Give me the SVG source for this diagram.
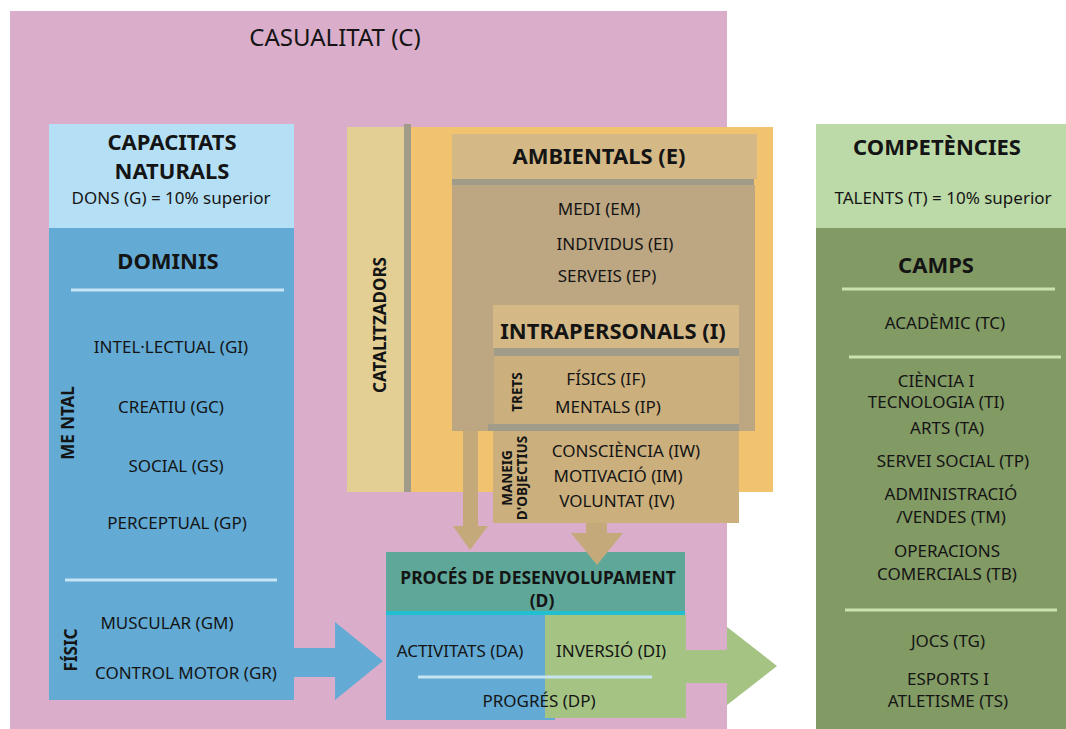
<svg xmlns="http://www.w3.org/2000/svg" width="1066" height="729" viewBox="0 0 1066 729">
  <style>
    text { font-family: "Noto Sans", "Open Sans", "DejaVu Sans", sans-serif; fill: #141414; text-anchor: middle; }
    .t { font-size: 17px; }
    .h { font-size: 22px; font-weight: bold; }
    .b { font-size: 17px; font-weight: bold; }
    .p { font-size: 17.5px; font-weight: bold; }
    .s { font-size: 13.5px; font-weight: bold; }
    .sep-blue { stroke: #c6e4f3; stroke-width: 3; }
    .sep-green { stroke: #c9e2ae; stroke-width: 3; }
    .bar { fill: #a19c8a; }
  </style>

  <!-- chance background -->
  <g id="casualitat">
    <rect x="10" y="11" width="717" height="718" fill="#daadcb"/>
    <text x="335" y="46" style="font-size:24px">CASUALITAT (C)</text>
  </g>

  <!-- natural abilities column -->
  <g id="capacitats">
    <rect x="49" y="124" width="245" height="104" fill="#b5dff5"/>
    <rect x="49" y="228" width="245" height="472" fill="#63abd4"/>
    <text class="h" x="172" y="150">CAPACITATS</text>
    <text class="h" x="172" y="179">NATURALS</text>
    <text class="t" x="171" y="204">DONS (G) = 10% superior</text>
    <text class="h" x="168" y="269">DOMINIS</text>
    <line class="sep-blue" x1="71" y1="290" x2="284" y2="290"/>
    <text class="t" x="171" y="353">INTEL·LECTUAL (GI)</text>
    <text class="t" x="171" y="413">CREATIU (GC)</text>
    <text class="t" x="176" y="472">SOCIAL (GS)</text>
    <text class="t" x="177" y="529">PERCEPTUAL (GP)</text>
    <line class="sep-blue" x1="65" y1="580" x2="277" y2="580"/>
    <text class="t" x="167" y="629">MUSCULAR (GM)</text>
    <text class="t" x="186" y="679">CONTROL MOTOR (GR)</text>
    <text class="b" transform="translate(74,423) rotate(-90)">ME NTAL</text>
    <text class="b" transform="translate(77,650) rotate(-90)">FÍSIC</text>
  </g>

  <!-- catalysts -->
  <g id="catalitzadors">
    <rect x="347" y="127" width="57" height="365" fill="#e3cf93"/>
    <rect class="bar" x="404" y="124" width="7" height="368"/>
    <rect x="411" y="127" width="362" height="365" fill="#f2c36f"/>
    <text class="b" transform="translate(386,325) rotate(-90)">CATALITZADORS</text>
  </g>

  <!-- environmental catalysts -->
  <g id="ambientals">
    <rect x="452" y="185" width="303" height="246" fill="#bda782"/>
    <rect x="452" y="134" width="305" height="45" fill="#d4b987"/>
    <rect class="bar" x="452" y="179" width="302" height="6"/>
    <text class="h" x="599" y="164">AMBIENTALS (E)</text>
    <text class="t" x="599" y="215">MEDI (EM)</text>
    <text class="t" x="615" y="250">INDIVIDUS (EI)</text>
    <text class="t" x="607" y="282">SERVEIS (EP)</text>
  </g>

  <!-- intrapersonal catalysts -->
  <g id="intrapersonals">
    <rect x="493" y="305" width="246" height="43" fill="#d4b987"/>
    <rect class="bar" x="494" y="348" width="245" height="8"/>
    <rect x="494" y="356" width="245" height="68" fill="#cbb07e"/>
    <rect class="bar" x="488" y="424" width="251" height="7"/>
    <rect x="493" y="431" width="246" height="92" fill="#cbb07e"/>
    <text class="h" x="613" y="339">INTRAPERSONALS (I)</text>
    <text class="s" transform="translate(522,392) rotate(-90)">TRETS</text>
    <text class="t" x="606" y="385">FÍSICS (IF)</text>
    <text class="t" x="608" y="413">MENTALS (IP)</text>
    <text class="s" transform="translate(512,478) rotate(-90)">MANEIG</text>
    <text class="s" transform="translate(527,478) rotate(-90)">D'OBJECTIUS</text>
    <text class="t" x="626" y="457">CONSCIÈNCIA (IW)</text>
    <text class="t" x="618" y="482">MOTIVACIÓ (IM)</text>
    <text class="t" x="617" y="507">VOLUNTAT (IV)</text>
  </g>

  <!-- developmental process -->
  <g id="proces">
    <rect x="386" y="552" width="299" height="59" fill="#5fa899"/>
    <rect x="386" y="611" width="299" height="4" fill="#22bfd1"/>
    <rect x="386" y="615" width="169" height="105" fill="#63abd4"/>
    <rect x="545" y="615" width="141" height="103" fill="#a5c484"/>
    <text class="p" x="538" y="584">PROCÉS DE DESENVOLUPAMENT</text>
    <text class="p" x="542" y="607">(D)</text>
    <text class="t" x="460" y="657">ACTIVITATS (DA)</text>
    <text class="t" x="611" y="657">INVERSIÓ (DI)</text>
    <line x1="418" y1="677" x2="652" y2="677" stroke="#c7e3ef" stroke-width="3"/>
    <text class="t" x="539" y="707">PROGRÉS (DP)</text>
  </g>

  <!-- competencies column -->
  <g id="competencies">
    <rect x="816" y="124" width="250" height="104" fill="#bcd9a8"/>
    <rect x="816" y="228" width="250" height="501" fill="#829a64"/>
    <text class="h" x="937" y="155">COMPETÈNCIES</text>
    <text class="t" x="943" y="204">TALENTS (T) = 10% superior</text>
    <text class="h" x="936" y="273">CAMPS</text>
    <line class="sep-green" x1="842" y1="289" x2="1055" y2="289"/>
    <text class="t" x="945" y="329">ACADÈMIC (TC)</text>
    <line class="sep-green" x1="849" y1="357" x2="1061" y2="357"/>
    <text class="t" x="936" y="387">CIÈNCIA I</text>
    <text class="t" x="936" y="408">TECNOLOGIA (TI)</text>
    <text class="t" x="947" y="434">ARTS (TA)</text>
    <text class="t" x="953" y="467">SERVEI SOCIAL (TP)</text>
    <text class="t" x="951" y="500">ADMINISTRACIÓ</text>
    <text class="t" x="951" y="523">/VENDES (TM)</text>
    <text class="t" x="947" y="557">OPERACIONS</text>
    <text class="t" x="947" y="580">COMERCIALS (TB)</text>
    <line class="sep-green" x1="845" y1="610" x2="1057" y2="610"/>
    <text class="t" x="948" y="647">JOCS (TG)</text>
    <text class="t" x="948" y="685">ESPORTS I</text>
    <text class="t" x="948" y="707">ATLETISME (TS)</text>
  </g>

  <!-- connectors -->
  <g id="connectors">
    <polygon fill="#63abd4" points="294,648 335,648 335,622 383,661 335,700 335,677 294,677"/>
    <polygon fill="#c4aa7b" points="463,431 478,431 478,526 488,526 470,550 453,526 463,526"/>
    <polygon fill="#c4aa7b" points="586,523 607,523 607,533 623,533 597,565 571,533 586,533"/>
    <polygon fill="#a5c484" points="686,650 727,650 727,627 777,666 727,705 727,683 686,683"/>
  </g>
</svg>
